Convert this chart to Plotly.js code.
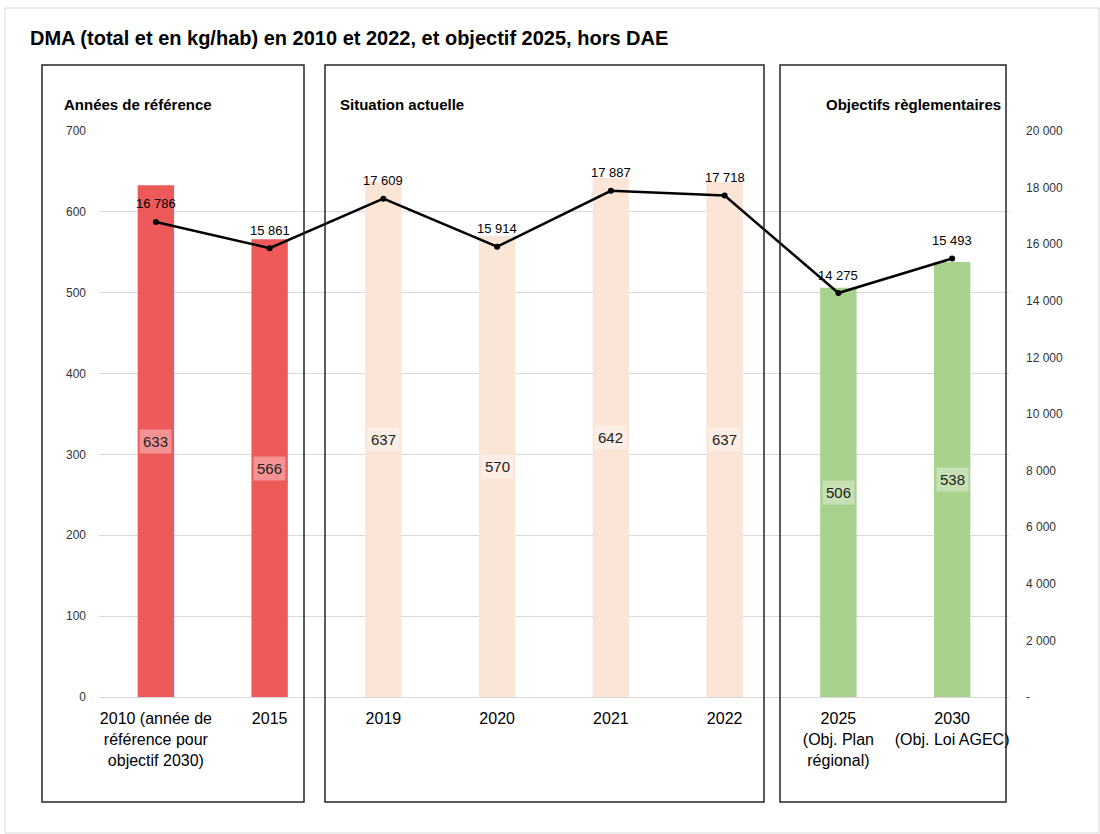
<!DOCTYPE html>
<html>
<head>
<meta charset="utf-8">
<script src="https://cdn.plot.ly/plotly-3.0.1.min.js"></script>
<style>html,body{margin:0;padding:0;background:#fff;}#chart{width:1100px;height:834px;}</style>
</head>
<body>
<div id="chart"></div>
<script>
const categories = [
  "2010 (année de<br>référence pour<br>objectif 2030)",
  "2015", "2019", "2020", "2021", "2022",
  "2025<br>(Obj. Plan<br>régional)",
  "2030<br>(Obj. Loi AGEC)"
];
const kgPerHab = [633, 566, 637, 570, 642, 637, 506, 538];
const totalTonnes = [16786, 15861, 17609, 15914, 17887, 17718, 14275, 15493];
const barColors = ["#EE5A5A", "#EE5A5A", "#FBE5D6", "#FBE5D6", "#FBE5D6", "#FBE5D6", "#A9D18E", "#A9D18E"];
const leftTicks = [0, 100, 200, 300, 400, 500, 600, 700];
const rightTicks = [0, 2000, 4000, 6000, 8000, 10000, 12000, 14000, 16000, 18000, 20000];
const rightTickText = ["-", "2 000", "4 000", "6 000", "8 000", "10 000", "12 000", "14 000", "16 000", "18 000", "20 000"];
const groups = [
  {label: "Années de référence", x0: 42, x1: 304, lx: 62, anchor: "left"},
  {label: "Situation actuelle", x0: 325, x1: 764, lx: 338, anchor: "left"},
  {label: "Objectifs règlementaires", x0: 780, x1: 1006, lx: 1003, anchor: "right"}
];

const FONT = "Liberation Sans, Arial, sans-serif";
const L = 99, R = 1009, T = 131, B = 697;
const px2x = p => (p - L) / (R - L);
const py2y = p => (B - p) / (B - T);
const idx = categories.map((c, i) => i);

const fmt = v => String(v).replace(/\B(?=(\d{3})+(?!\d))/g, " ");

const bars = {
  type: "bar", x: idx, y: kgPerHab,
  marker: {color: barColors, line: {width: 0}},
  width: 0.32, hoverinfo: "skip", yaxis: "y"
};
const line = {
  type: "scatter", mode: "lines+markers", x: idx, y: totalTonnes,
  yaxis: "y2",
  line: {color: "#000000", width: 2.5},
  marker: {color: "#000000", size: 6},
  cliponaxis: false, hoverinfo: "skip"
};

const annotations = idx.map(i => ({
  x: i, y: kgPerHab[i] / 2, xref: "x", yref: "y",
  text: String(kgPerHab[i]), showarrow: false,
  font: {family: FONT, size: 15, color: "#222"},
  bgcolor: "rgba(255,255,255,0.35)", borderpad: 3
}));
idx.forEach(i => annotations.push({
  x: i, y: totalTonnes[i], xref: "x", yref: "y2",
  text: fmt(totalTonnes[i]), showarrow: false, yshift: 18,
  font: {family: FONT, size: 13, color: "#000"}
}));
groups.forEach(g => annotations.push({
  x: px2x(g.lx), y: py2y(104), xref: "paper", yref: "paper",
  xanchor: g.anchor, yanchor: "middle", text: "<b>" + g.label + "</b>",
  showarrow: false, font: {family: FONT, size: 15, color: "#000"}
}));

const shapes = groups.map(g => ({
  type: "rect", xref: "paper", yref: "paper",
  x0: px2x(g.x0), x1: px2x(g.x1), y0: py2y(802), y1: py2y(65),
  line: {color: "#262626", width: 1.5}, fillcolor: "rgba(0,0,0,0)", layer: "above"
}));
shapes.push({
  type: "rect", xref: "paper", yref: "paper",
  x0: px2x(5), x1: px2x(1099), y0: py2y(833), y1: py2y(8),
  line: {color: "#D9D9D9", width: 1}, fillcolor: "rgba(0,0,0,0)", layer: "below"
});

const layout = {
  width: 1100, height: 834,
  margin: {l: L, r: 1100 - R, t: T, b: 834 - B, pad: 0},
  paper_bgcolor: "#fff", plot_bgcolor: "#fff",
  showlegend: false,
  title: {
    text: "<b>DMA (total et en kg/hab) en 2010 et 2022, et objectif 2025, hors DAE</b>",
    x: 30 / 1100, xref: "container", xanchor: "left",
    y: 1 - 38 / 834, yref: "container", yanchor: "middle",
    font: {family: FONT, size: 20, color: "#000"}
  },
  xaxis: {
    range: [-0.5, 7.5], tickvals: idx, ticktext: categories,
    tickfont: {family: FONT, size: 16, color: "#000"},
    showline: false, ticks: "", showgrid: false, zeroline: false, automargin: false,
    ticklabelstandoff: 10
  },
  yaxis: {
    range: [0, 700], tickvals: leftTicks, ticktext: leftTicks.map(String),
    tickfont: {family: FONT, size: 12, color: "#333"},
    showgrid: true, gridcolor: "#D9D9D9", gridwidth: 1,
    zeroline: true, zerolinecolor: "#D9D9D9", showline: false,
    ticks: "", ticklabelstandoff: 12, automargin: false
  },
  yaxis2: {
    range: [0, 20000], overlaying: "y", side: "right",
    tickvals: rightTicks, ticktext: rightTickText,
    tickfont: {family: FONT, size: 12, color: "#333"},
    showgrid: false, zeroline: false, showline: false, ticks: "",
    ticklabelstandoff: 16, automargin: false
  },
  annotations: annotations,
  shapes: shapes
};

Plotly.newPlot("chart", [bars, line], layout, {displayModeBar: false, staticPlot: true});
</script>
</body>
</html>
